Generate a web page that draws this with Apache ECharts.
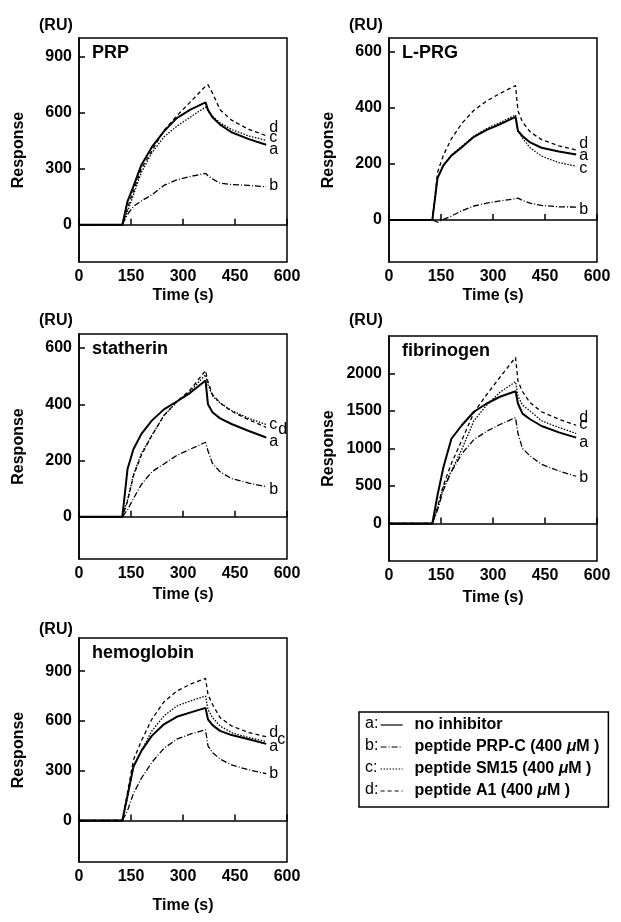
<!DOCTYPE html>
<html lang="en">
  <head>
    <meta charset="UTF-8" />
    <title>SPR binding curves</title>
    <script src="https://cdn.jsdelivr.net/npm/echarts@6/dist/echarts.min.js"></script>
    <style>
      * {
        margin: 0;
        padding: 0;
      }
      body {
        background: #fff;
      }
    </style>
  </head>
  <body>
    <div id="charts" style="width: 621px; height: 922px"></div>
    <script>
      // time points (s) shared by every curve
      var times = [0, 125, 140, 157, 180, 210, 245, 282, 320, 365, 372, 385, 407, 440, 490, 540];

      // PRP
      var prpA = [0, 0, 125, 205, 320, 415, 500, 571, 615, 655, 615, 575, 536, 495, 458, 428];
      var prpB = [0, 0, 55, 98, 127, 160, 210, 240, 258, 275, 262, 245, 222, 215, 210, 203];
      var prpC = [0, 0, 70, 160, 280, 384, 470, 527, 575, 630, 612, 580, 545, 510, 475, 452];
      var prpD = [0, 0, 90, 180, 300, 395, 505, 583, 655, 742, 750, 705, 616, 560, 510, 477];
      // L-PRG
      var lprgA = [0, 0, 150, 195, 230, 260, 297, 322, 342, 368, 318, 300, 277, 258, 245, 234];
      var lprgB = [0, 0, -8, 2, 14, 33, 50, 60, 68, 76, 78, 70, 60, 52, 47, 46];
      var lprgC = [0, 0, 150, 197, 232, 263, 300, 327, 348, 375, 320, 292, 258, 228, 205, 192];
      var lprgD = [0, 0, 170, 232, 290, 345, 392, 425, 452, 480, 390, 350, 315, 287, 265, 250];
      // statherin
      var statA = [0, 0, 170, 240, 295, 342, 382, 410, 440, 485, 400, 372, 350, 330, 305, 282];
      var statB = [0, 0, 25, 65, 115, 160, 188, 218, 240, 265, 235, 190, 160, 136, 120, 107];
      var statC = [0, 0, 60, 150, 225, 290, 360, 408, 445, 505, 470, 430, 405, 378, 350, 328];
      var statD = [0, 0, 55, 145, 220, 288, 360, 410, 450, 520, 480, 435, 405, 375, 345, 318];
      // fibrinogen
      var fibA = [0, 0, 380, 750, 1130, 1310, 1490, 1600, 1690, 1763, 1600, 1465, 1390, 1300, 1215, 1145];
      var fibB = [0, 0, 180, 447, 690, 930, 1120, 1230, 1320, 1412, 1200, 1000, 900, 790, 700, 630];
      var fibC = [0, 0, 200, 491, 700, 990, 1370, 1580, 1750, 1890, 1700, 1580, 1500, 1370, 1280, 1200];
      var fibD = [0, 0, 220, 513, 800, 1110, 1480, 1720, 1950, 2215, 1900, 1760, 1610, 1490, 1390, 1310];
      // hemoglobin
      var hemA = [0, 0, 150, 324, 420, 510, 580, 625, 650, 679, 610, 575, 540, 515, 490, 462];
      var hemB = [0, 0, 60, 162, 255, 350, 435, 490, 520, 547, 450, 410, 370, 335, 305, 282];
      var hemC = [0, 0, 140, 324, 420, 540, 630, 690, 720, 750, 670, 620, 570, 530, 500, 476];
      var hemD = [0, 0, 170, 365, 480, 610, 715, 780, 820, 857, 760, 700, 620, 570, 530, 505];

      var xTicks = [0, 150, 300, 450, 600];
      var prpTicks = [0, 300, 600, 900];
      var lprgTicks = [0, 200, 400, 600];
      var statTicks = [0, 200, 400, 600];
      var fibTicks = [0, 500, 1000, 1500, 2000];
      var hemTicks = [0, 300, 600, 900];

      var letters = ["a", "b", "c", "d"];
      var names = [
        "no inhibitor",
        "peptide PRP-C (400 μM )",
        "peptide SM15 (400 μM )",
        "peptide A1 (400 μM )",
      ];

      var FONT = "'Liberation Sans', Arial, Helvetica, sans-serif";

      var panels = [
        { title: "PRP", data: [prpA, prpB, prpC, prpD], ticks: prpTicks, min: -200, max: 1000,
          left: 79, top: 38, height: 224, ruTop: 18, timeGap: 26,
          shift: [[0, 5], [0, -1], [0, -3], [0, -8]] },
        { title: "L-PRG", data: [lprgA, lprgB, lprgC, lprgD], ticks: lprgTicks, min: -150, max: 650,
          left: 389, top: 38, height: 224, ruTop: 18, timeGap: 26,
          shift: [[0, 1], [0, 2], [0, 2], [0, -6]] },
        { title: "statherin", data: [statA, statB, statC, statD], ticks: statTicks, min: -150, max: 650,
          left: 79, top: 334, height: 225, ruTop: 313, timeGap: 28,
          shift: [[0, 4], [0, 3], [0, 0], [9, 2]] },
        { title: "fibrinogen", data: [fibA, fibB, fibC, fibD], ticks: fibTicks, min: -500, max: 2500,
          left: 389, top: 336, height: 225, ruTop: 313, timeGap: 29,
          shift: [[0, 5], [0, 1], [0, -9], [0, -8]] },
        { title: "hemoglobin", data: [hemA, hemB, hemC, hemD], ticks: hemTicks, min: -250, max: 1100,
          left: 79, top: 638, height: 224, ruTop: 622, timeGap: 36,
          shift: [[0, 3], [0, 0], [8, -2], [0, -4]] },
      ];

      var lineStyles = [
        { type: "solid", width: 2 },
        { type: [6, 2, 1, 2], width: 1.3 },
        { type: [1.5, 1.5], width: 1.3 },
        { type: [4, 3], width: 1.3 },
      ];

      var boldText = { color: "#000", fontFamily: FONT, fontWeight: "bold" };

      var grids = [], xAxes = [], yAxes = [], series = [], titles = [];
      panels.forEach(function (p, i) {
        grids.push({
          left: p.left, top: p.top, width: 208, height: p.height,
          show: true, borderColor: "#000", borderWidth: 1.5,
        });
        xAxes.push({
          type: "value", gridIndex: i, min: 0, max: 600, interval: 150,
          axisLine: { lineStyle: { color: "#000", width: 1.5 } },
          axisTick: { inside: true, length: 6, lineStyle: { color: "#000", width: 1.5 } },
          splitLine: { show: false },
          axisLabel: Object.assign({ margin: 7, fontSize: 16, showMinLabel: true, showMaxLabel: true }, boldText),
          name: "Time (s)", nameLocation: "middle", nameGap: p.timeGap,
          nameTextStyle: Object.assign({ fontSize: 16 }, boldText),
        });
        yAxes.push({
          type: "value", gridIndex: i, min: p.min, max: p.max,
          axisLine: { lineStyle: { color: "#000", width: 1.5 } },
          axisTick: { customValues: p.ticks, inside: true, length: 6, lineStyle: { color: "#000", width: 1.5 } },
          splitLine: { show: false },
          axisLabel: Object.assign({
            customValues: p.ticks, margin: 7, fontSize: 16,
            formatter: function (v) { return String(v); },
          }, boldText),
          name: "Response", nameLocation: "middle", nameRotate: 90, nameGap: 52,
          nameTextStyle: Object.assign({ fontSize: 16 }, boldText),
        });
        titles.push({
          text: p.title, left: p.left + 13, top: p.top + 6, padding: 0,
          textStyle: Object.assign({ fontSize: 18 }, boldText),
        });
        titles.push({
          text: "(RU)", left: p.left - 40, top: p.ruTop, padding: 0,
          textStyle: Object.assign({ fontSize: 16 }, boldText),
        });
        p.data.forEach(function (vals, k) {
          series.push({
            type: "line", name: names[k], xAxisIndex: i, yAxisIndex: i,
            symbol: "none", showSymbol: false,
            data: times.map(function (t, j) { return [t, vals[j]]; }),
            lineStyle: Object.assign({ color: "#000" }, lineStyles[k]),
            itemStyle: { color: "#000" },
            endLabel: {
              show: true, formatter: letters[k], distance: 3, offset: p.shift[k],
              fontSize: 16, color: "#000", fontFamily: FONT,
            },
            z: 4 - k,
          });
        });
      });

      var legendTop = 712;
      var letterMarks = letters.map(function (l, k) {
        return {
          type: "text", left: 365, top: legendTop + 5 + k * 22 - 1,
          style: { text: l + ":", font: "16px " + FONT, fill: "#000" },
        };
      });

      var myEcharts = echarts.init(document.getElementById("charts"));
      var options = {
        animation: false,
        backgroundColor: "#fff",
        title: titles,
        grid: grids,
        xAxis: xAxes,
        yAxis: yAxes,
        series: series,
        legend: {
          orient: "vertical", left: 359, top: legendTop,
          padding: [5, 9, 8, 21], itemWidth: 22, itemHeight: 14, itemGap: 6,
          borderColor: "#000", borderWidth: 1.5,
          selectedMode: false, data: names,
          itemStyle: { opacity: 0 },
          lineStyle: { width: 1.2 },
          formatter: function (name) {
            var parts = name.split("μ");
            if (parts.length < 2) return "{b|" + name + "}";
            return "{b|" + parts[0] + "}{i|μ}{b|" + parts[1] + "}";
          },
          textStyle: {
            padding: [0, 0, 0, 7], lineHeight: 16,
            rich: {
              b: { fontSize: 16, fontWeight: "bold", fontFamily: FONT, color: "#000", lineHeight: 16 },
              i: { fontSize: 16, fontWeight: "bold", fontStyle: "italic", fontFamily: FONT, color: "#000", lineHeight: 16 },
            },
          },
        },
        graphic: letterMarks,
      };
      myEcharts.setOption(options);
    </script>
  </body>
</html>
